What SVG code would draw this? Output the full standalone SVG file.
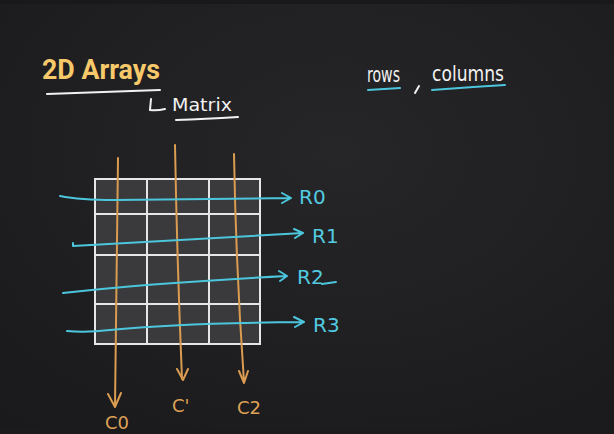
<svg xmlns="http://www.w3.org/2000/svg" width="614" height="434" viewBox="0 0 614 434">
<defs>
<radialGradient id="bg" cx="0.55" cy="0.35" r="0.8">
<stop offset="0" stop-color="#262528"/>
<stop offset="1" stop-color="#1a191c"/>
</radialGradient>
</defs>
<style>
.hand{font-family:"DejaVu Sans","Liberation Sans",sans-serif;font-weight:400}
.w{fill:#f2f2f2}
.wl{fill:none;stroke:#f2f2f2;stroke-width:2;stroke-linecap:round}
.bl{fill:none;stroke:#4cc6dc;stroke-width:2;stroke-linecap:round;stroke-linejoin:round}
.bt{fill:#52cbe0;font-size:20px}
.or{fill:none;stroke:#d99c50;stroke-width:2;stroke-linecap:round;stroke-linejoin:round}
.ot{fill:#dfa256;font-size:18px}
.grid{fill:none;stroke:#e6e6e6;stroke-width:2}
</style>
<rect width="614" height="434" fill="url(#bg)"/>
<rect width="614" height="4" fill="#19191a"/>
<rect x="0" y="430" width="614" height="4" fill="#1b1b1b"/>

<g id="title">
<text x="42" y="79" font-family="Roboto,'Liberation Sans',sans-serif" font-weight="700" font-size="27" fill="#f6c96a" textLength="118" lengthAdjust="spacingAndGlyphs">2D Arrays</text>
<path class="wl" d="M47,94 Q100,92 160,90"/>
</g>
<g id="matrix-note">
<path class="wl" d="M151,99 L150,110 Q157,111 165,109"/>
<text class="hand w" x="172" y="111" font-size="17" textLength="60" lengthAdjust="spacingAndGlyphs">Matrix</text>
<path class="wl" d="M176,120 Q205,119 238,117"/>
</g>
<g id="rows-columns">
<text class="hand w" x="367" y="82" font-size="21" textLength="33" lengthAdjust="spacingAndGlyphs">rows</text>
<path class="wl" d="M419,86 L415,93"/>
<text class="hand w" x="432" y="81" font-size="21" textLength="72" lengthAdjust="spacingAndGlyphs">columns</text>
<path class="bl" d="M368,90 Q385,89 400,88"/>
<path class="bl" d="M432,90 Q470,87 505,85"/>
</g>

<g id="grid">
<rect x="95" y="179" width="165" height="165" fill="#3a393c"/>
<path class="grid" d="M95,179 H260 V344 H95 Z M147,179 V344 M209,179 V344 M95,214 H260 M95,255 H260 M95,304 H260"/>
</g>

<g id="connectors">
<path class="or" d="M118,158 Q116,280 115,406 M108,394 L115,407 L121,393"/>
<path class="or" d="M175,145 Q177,260 182,379 M177,369 L183,380 L188,369"/>
<path class="or" d="M234,154 Q236,270 244,382 M239,371 L244,383 L248,371"/>
<path class="bl" d="M60,196 Q80,200 115,200 L291,198 M282,193 L291,198 L282,203"/>
<path class="bl" d="M73,243 L73,246 L303,233 M294,229 L303,233 L295,238"/>
<path class="bl" d="M63,293 Q150,283 287,276 M279,271 L287,276 L280,281"/>
<path class="bl" d="M67,331 Q85,333 110,330 Q180,323 304,322 M294,317 L304,322 L295,327"/>
</g>

<g id="labels">
<text class="hand bt" x="299" y="204">R0</text>
<text class="hand bt" x="312" y="243">R1</text>
<text class="hand bt" x="297" y="284">R2</text>
<path class="bl" d="M322,284 L336,282"/>
<text class="hand bt" x="313" y="332">R3</text>
<text class="hand ot" x="105" y="429">C0</text>
<text class="hand ot" x="172" y="412">C'</text>
<text class="hand ot" x="237" y="414">C2</text>
</g>
</svg>
